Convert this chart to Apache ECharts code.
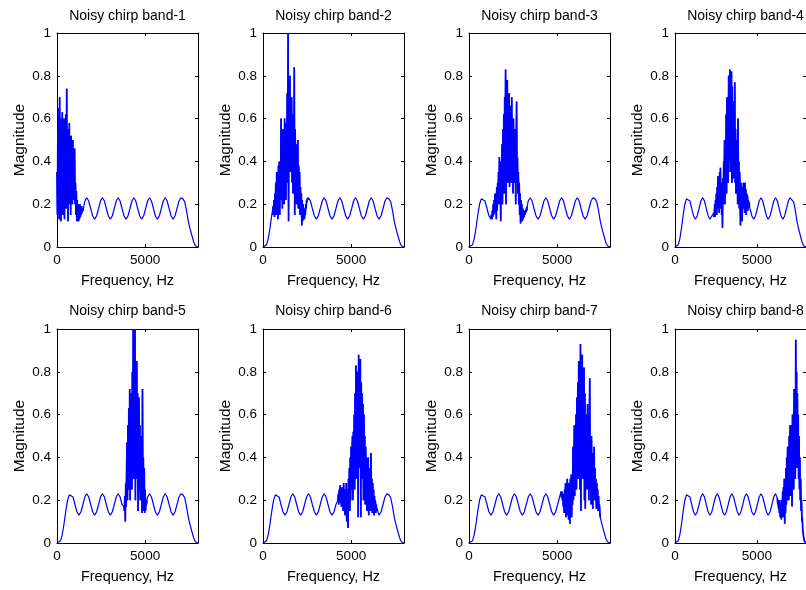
<!DOCTYPE html>
<html>
<head>
<meta charset="utf-8">
<script src="https://cdn.jsdelivr.net/npm/echarts@6/dist/echarts.min.js"></script>
<style>
html,body{margin:0;padding:0;background:#fff;}
#chart{width:806px;height:590px;}
</style>
</head>
<body>
<div id="chart"></div>
<script>
// ---------- data ----------
const titles = ['Noisy chirp band-1','Noisy chirp band-2','Noisy chirp band-3','Noisy chirp band-4',
                'Noisy chirp band-5','Noisy chirp band-6','Noisy chirp band-7','Noisy chirp band-8'];
const xTickValues = [0, 5000];
const yTickValues = [0, 0.2, 0.4, 0.6, 0.8, 1];
const xAxisName = 'Frequency, Hz';
const yAxisName = 'Magnitude';

const baseFreq = [0,100,200,300,400,500,600,700,800,
  910,1020,1135,1245,1355,1470,1580,1690,
  1800,1910,2025,2135,2245,2360,2470,2580,
  2690,2800,2915,3025,3135,3250,3360,3470,
  3580,3690,3805,3915,4025,4140,4250,4360,
  4470,4580,4695,4805,4915,5030,5140,5250,
  5360,5470,5585,5695,5805,5920,6030,6140,
  6250,6360,6475,6585,6695,6810,6920,7030,
  7150,7250,7350,7450,7550,7650,7750,7850,8000];
const baseMag = [0,0.002,0.01,0.04,0.09,0.15,0.2,0.225,0.23,
  0.215,0.18,0.145,0.13,0.145,0.18,0.215,0.23,
  0.215,0.18,0.145,0.13,0.145,0.18,0.215,0.23,
  0.215,0.18,0.145,0.13,0.145,0.18,0.215,0.23,
  0.215,0.18,0.145,0.13,0.145,0.18,0.215,0.23,
  0.215,0.18,0.145,0.13,0.145,0.18,0.215,0.23,
  0.215,0.18,0.145,0.13,0.145,0.18,0.215,0.23,
  0.215,0.18,0.145,0.13,0.145,0.18,0.215,0.23,
  0.225,0.21,0.17,0.12,0.085,0.055,0.025,0.006,0];

// noisy band segments: start frequency, step (Hz) and magnitudes
const band1Start = 0, band1Step = 25;
const band1Mag = [0.35,0.15,0.55,0.2,0.65,0.13,0.7,0.25,0.5,0.12,
  0.6,0.3,0.63,0.15,0.55,0.22,0.6,0.13,0.48,0.28,
  0.62,0.18,0.74,0.3,0.5,0.12,0.55,0.2,0.58,0.25,
  0.45,0.15,0.52,0.3,0.42,0.2,0.5,0.25,0.38,0.22,
  0.46,0.2,0.3,0.15,0.26,0.12,0.22,0.14,0.2,0.12,
  0.18,0.13,0.2,0.14,0.17,0.15,0.19,0.16,0.18,0.17,
  0.18];
const band2Start = 550, band2Step = 25;
const band2Mag = [0.15,0.19,0.17,0.22,0.14,0.25,0.18,0.3,0.15,0.35,
  0.2,0.28,0.13,0.38,0.2,0.4,0.15,0.35,0.22,0.6,
  0.25,0.45,0.18,0.55,0.3,0.42,0.2,0.6,0.28,0.5,
  0.22,0.58,0.35,0.72,0.3,1.0,0.12,0.75,0.4,0.8,
  0.35,0.65,0.45,0.7,0.3,0.55,0.25,0.62,0.4,0.84,
  0.15,0.55,0.3,0.48,0.2,0.45,0.25,0.5,0.18,0.38,
  0.22,0.35,0.15,0.28,0.18,0.25,0.1,0.22,0.12,0.2,
  0.14,0.18,0.13,0.17,0.15,0.2,0.18,0.22,0.21,0.23,
  0.22];
const band3Start = 1250, band3Step = 25;
const band3Mag = [0.14,0.15,0.13,0.17,0.14,0.2,0.15,0.22,0.16,0.25,
  0.18,0.22,0.13,0.28,0.17,0.3,0.2,0.35,0.22,0.42,
  0.2,0.38,0.12,0.4,0.25,0.48,0.2,0.55,0.3,0.62,
  0.25,0.7,0.32,0.83,0.2,0.6,0.35,0.78,0.3,0.65,
  0.4,0.72,0.28,0.6,0.35,0.66,0.3,0.7,0.38,0.55,
  0.25,0.6,0.33,0.5,0.3,0.55,0.2,0.45,0.68,0.3,
  0.42,0.25,0.35,0.2,0.3,0.15,0.25,0.11,0.22,0.13,
  0.2,0.12,0.18,0.13,0.17,0.14,0.16,0.15,0.17,0.16,
  0.18,0.17,0.19];
const band4Start = 2350, band4Step = 25;
const band4Mag = [0.14,0.16,0.15,0.2,0.14,0.22,0.17,0.25,0.15,0.28,
  0.18,0.33,0.2,0.3,0.16,0.35,0.22,0.37,0.18,0.3,
  0.15,0.28,0.09,0.32,0.2,0.4,0.25,0.5,0.2,0.45,
  0.3,0.62,0.25,0.7,0.35,0.66,0.3,0.8,0.4,0.72,
  0.83,0.35,0.7,0.45,0.82,0.3,0.75,0.4,0.68,0.32,
  0.6,0.38,0.77,0.3,0.55,0.25,0.5,0.35,0.45,0.2,
  0.6,0.25,0.4,0.18,0.35,0.2,0.1,0.3,0.15,0.28,
  0.12,0.25,0.18,0.3,0.2,0.28,0.16,0.3,0.18,0.27,
  0.15,0.25,0.18,0.24,0.17,0.22,0.19,0.21,0.19];
const band5Start = 3800, band5Step = 25;
const band5Mag = [0.17,0.15,0.22,0.1,0.28,0.17,0.35,0.47,0.2,0.55,
  0.25,0.63,0.3,0.72,0.2,0.65,0.4,0.7,0.25,0.8,
  0.35,1.0,0.3,0.85,0.45,1.0,0.2,0.75,0.4,0.85,
  0.3,0.7,0.15,0.6,0.68,0.25,0.55,0.2,0.5,0.3,
  0.45,0.14,0.72,0.2,0.4,0.15,0.35,0.14,0.25,0.15,
  0.2,0.18,0.2];
const band6Start = 4250, band6Step = 25;
const band6Mag = [0.2,0.23,0.18,0.25,0.2,0.27,0.19,0.24,0.17,0.26,
  0.2,0.23,0.15,0.28,0.18,0.25,0.13,0.22,0.16,0.28,
  0.1,0.25,0.15,0.07,0.3,0.18,0.35,0.15,0.4,0.2,
  0.45,0.25,0.42,0.5,0.2,0.52,0.3,0.6,0.25,0.7,
  0.35,0.83,0.3,0.8,0.4,0.7,0.12,0.88,0.35,0.82,
  0.45,0.86,0.12,0.75,0.3,0.7,0.4,0.65,0.2,0.6,
  0.3,0.5,0.18,0.45,0.25,0.4,0.15,0.35,0.22,0.4,
  0.13,0.3,0.2,0.35,0.15,0.42,0.25,0.3,0.14,0.28,
  0.18,0.25,0.13,0.22,0.15,0.2,0.14,0.18,0.15,0.16,
  0.15];
const band7Start = 5200, band7Step = 25;
const band7Mag = [0.22,0.24,0.21,0.24,0.2,0.23,0.17,0.22,0.14,0.25,
  0.15,0.28,0.12,0.24,0.16,0.3,0.13,0.27,0.11,0.28,
  0.15,0.09,0.3,0.14,0.32,0.12,0.28,0.18,0.45,0.2,
  0.35,0.55,0.22,0.5,0.3,0.6,0.25,0.68,0.35,0.75,
  0.3,0.85,0.4,0.7,0.25,0.93,0.15,0.8,0.45,0.88,
  0.3,0.75,0.4,0.82,0.2,0.7,0.16,0.6,0.35,0.55,
  0.25,0.65,0.3,0.5,0.2,0.55,0.77,0.25,0.45,0.18,
  0.5,0.3,0.42,0.16,0.4,0.25,0.45,0.2,0.35,0.22,
  0.3,0.16,0.28,0.2,0.25,0.15,0.22,0.16,0.18,0.14,
  0.12];
const band8Start = 6250, band8Step = 25;
const band8Mag = [0.21,0.18,0.2,0.16,0.19,0.14,0.2,0.12,0.18,0.15,
  0.11,0.2,0.14,0.24,0.12,0.26,0.15,0.3,0.09,0.25,
  0.14,0.35,0.18,0.4,0.2,0.45,0.25,0.38,0.2,0.5,
  0.3,0.55,0.22,0.5,0.3,0.55,0.17,0.6,0.35,0.55,
  0.25,0.72,0.4,0.6,0.3,0.95,0.45,0.8,0.35,0.7,
  0.4,0.6,0.3,0.5,0.25,0.4,0.2,0.3,0.15,0.2,
  0.1,0.12,0.06,0.05,0.03,0.02,0.01,0.005,0.003,0.001,
  0];

const bands = [
  [band1Start, band1Step, band1Mag], [band2Start, band2Step, band2Mag],
  [band3Start, band3Step, band3Mag], [band4Start, band4Step, band4Mag],
  [band5Start, band5Step, band5Mag], [band6Start, band6Step, band6Mag],
  [band7Start, band7Step, band7Mag], [band8Start, band8Step, band8Mag]
];

function noisePoints(start, step, mags) {
  return mags.map((m, i) => [start + i * step, m]);
}
function buildData(start, step, mags) {
  const end = start + step * (mags.length - 1);
  const pts = [];
  for (let i = 0; i < baseFreq.length; i++) if (baseFreq[i] < start) pts.push([baseFreq[i], baseMag[i]]);
  noisePoints(start, step, mags).forEach(p => pts.push(p));
  for (let i = 0; i < baseFreq.length; i++) if (baseFreq[i] > end) pts.push([baseFreq[i], baseMag[i]]);
  return pts;
}

// ---------- layout ----------
const FONT = "'Liberation Sans', Arial, Helvetica, sans-serif";
const gridLefts = [57, 263, 469, 675];
const gridTops = [33, 329];
const gridW = 141, gridH = 214;
const titleTops = [9, 304];

const grids = [], xAxes = [], yAxes = [], series = [], titleOpts = [];
const black = '#000';
const plain = v => String(v);
for (let k = 0; k < 8; k++) {
  const col = k % 4, row = Math.floor(k / 4);
  grids.push({left: gridLefts[col], top: gridTops[row], width: gridW, height: gridH, containLabel: false});
  titleOpts.push({
    text: titles[k], left: gridLefts[col] + gridW / 2, top: titleTops[row], textAlign: 'center', padding: 0,
    textStyle: {fontSize: 14, fontWeight: 'normal', color: black, fontFamily: FONT}
  });
  const common = {
    gridIndex: k, type: 'value', min: 0, max: 8000, splitLine: {show: false},
    axisLine: {show: true, onZero: false, lineStyle: {color: black, width: 1}},
    axisTick: {show: true, inside: true, length: 3, customValues: xTickValues, lineStyle: {color: black}}
  };
  xAxes.push(Object.assign({}, common, {
    position: 'bottom',
    axisLabel: {show: true, customValues: xTickValues, formatter: plain, color: black, fontSize: 13.5, fontFamily: FONT, margin: 6},
    name: xAxisName, nameLocation: 'middle', nameGap: 26,
    nameTextStyle: {color: black, fontSize: 14.5, fontFamily: FONT}
  }));
  xAxes.push(Object.assign({}, common, {position: 'top', axisLabel: {show: false}}));
  const ycommon = {
    gridIndex: k, type: 'value', min: 0, max: 1, splitLine: {show: false},
    axisLine: {show: true, onZero: false, lineStyle: {color: black, width: 1}},
    axisTick: {show: true, inside: true, length: 3, customValues: yTickValues, lineStyle: {color: black}}
  };
  yAxes.push(Object.assign({}, ycommon, {
    position: 'left',
    axisLabel: {show: true, customValues: yTickValues, formatter: plain, color: black, fontSize: 13.5, fontFamily: FONT, margin: 6},
    name: yAxisName, nameLocation: 'middle', nameGap: 29, nameRotate: 90,
    nameTextStyle: {color: black, fontSize: 15.5, fontFamily: FONT}
  }));
  yAxes.push(Object.assign({}, ycommon, {position: 'right', axisLabel: {show: false}}));
  const b = bands[k];
  series.push({
    type: 'line', xAxisIndex: 2 * k, yAxisIndex: 2 * k,
    data: buildData(b[0], b[1], b[2]),
    showSymbol: false, symbol: 'none', clip: true,
    lineStyle: {color: '#0000ff', width: 1.2}, itemStyle: {color: '#0000ff'},
    animation: false
  });
  // the dense noisy band drawn again a little heavier, as it looks in the reference
  series.push({
    type: 'line', xAxisIndex: 2 * k, yAxisIndex: 2 * k,
    data: noisePoints(b[0], b[1], b[2]),
    showSymbol: false, symbol: 'none', clip: true,
    lineStyle: {color: '#0000ff', width: 1.7}, itemStyle: {color: '#0000ff'},
    animation: false
  });
}

const chart = echarts.init(document.getElementById('chart'), null, {renderer: 'canvas'});
chart.setOption({
  backgroundColor: '#fff',
  animation: false,
  title: titleOpts,
  grid: grids,
  xAxis: xAxes,
  yAxis: yAxes,
  series: series
});
</script>
</body>
</html>
